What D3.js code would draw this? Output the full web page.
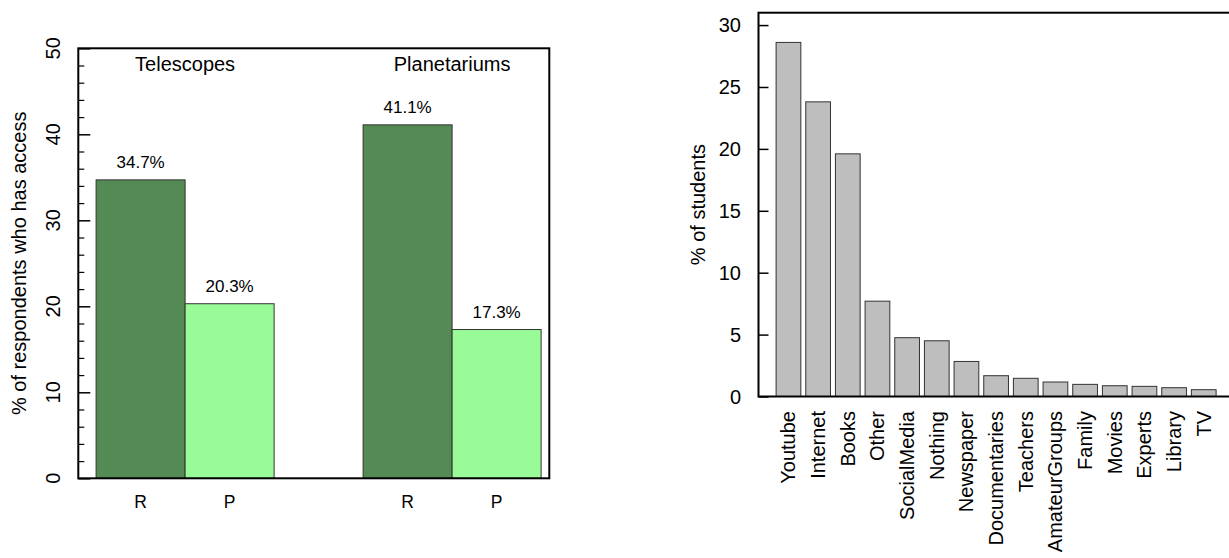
<!DOCTYPE html>
<html>
<head>
<meta charset="utf-8">
<script src="https://cdn.jsdelivr.net/npm/d3@7"></script>
<style>
  html, body { margin: 0; padding: 0; background: #fff; }
  svg { display: block; }
  text { font-family: "Liberation Sans", Arial, Helvetica, sans-serif; fill: #000; }
</style>
</head>
<body>
<svg id="chart" width="1229" height="558"></svg>
<script>
// ---- Data: left panel ----
const groupNames = ["Telescopes", "Planetariums"];
const barNames = ["R", "P"];
const telescopeValues = [34.7, 20.3];
const planetariumValues = [41.1, 17.3];
const barColors = ["#548B54", "#98FB98"];
const leftTicks = [0, 10, 20, 30, 40, 50];
const leftMinorTicks = [2, 4, 6, 8, 12, 14, 16, 18, 22, 24, 26, 28, 32, 34, 36, 38, 42, 44, 46, 48];
const leftYTitle = "% of respondents who has access";

// ---- Data: right panel ----
const sources = ["Youtube", "Internet", "Books", "Other", "SocialMedia", "Nothing", "Newspaper",
  "Documentaries", "Teachers", "AmateurGroups", "Family", "Movies", "Experts", "Library", "TV"];
const sourceValues = [28.6, 23.8, 19.6, 7.7, 4.75, 4.5, 2.83, 1.68, 1.47, 1.17, 0.98, 0.87, 0.82, 0.71, 0.55];
const rightTicks = [0, 5, 10, 15, 20, 25, 30];
const rightYTitle = "% of students";

const svg = d3.select("#chart");

// ================= LEFT PANEL =================
(function () {
  const L = 78.3, R = 549.3, T = 48.3, B = 478.3;
  const x = d3.scaleLinear().domain([0, 5.292]).range([L, R]);
  const y = d3.scaleLinear().domain([0, 50]).range([B, T]);
  const g = svg.append("g");
  const groupValues = [telescopeValues, planetariumValues];

  groupValues.forEach((vals, gi) => {
    const gStart = 0.2 + gi * 3;
    vals.forEach((v, bi) => {
      const x0 = gStart + bi;
      g.append("rect")
        .attr("x", x(x0)).attr("y", y(v))
        .attr("width", x(x0 + 1) - x(x0)).attr("height", y(0) - y(v))
        .attr("fill", barColors[bi]).attr("stroke", "#333").attr("stroke-width", 1);
      g.append("text")
        .attr("x", x(x0 + 0.5)).attr("y", y(v) - 12)
        .attr("text-anchor", "middle").attr("font-size", 17)
        .text(v.toFixed(1) + "%");
      g.append("text")
        .attr("x", x(x0 + 0.5)).attr("y", 507.7)
        .attr("text-anchor", "middle").attr("font-size", 17.5)
        .text(barNames[bi]);
    });
    g.append("text")
      .attr("x", x(gStart + 1)).attr("y", 70.8)
      .attr("text-anchor", "middle").attr("font-size", 20)
      .text(groupNames[gi]);
  });

  // minor ticks (inward)
  const minorAxis = d3.axisLeft(y).tickValues(leftMinorTicks).tickSize(-6).tickFormat("");
  const ma = g.append("g").attr("transform", `translate(${L},0)`).call(minorAxis);
  ma.select(".domain").remove();
  ma.selectAll("line").attr("stroke", "#000").attr("stroke-width", 1.2);
  // major ticks (inward)
  const majorAxis = d3.axisLeft(y).tickValues(leftTicks).tickSize(-12).tickFormat("");
  const mj = g.append("g").attr("transform", `translate(${L},0)`).call(majorAxis);
  mj.select(".domain").remove();
  mj.selectAll("line").attr("stroke", "#000").attr("stroke-width", 1.5);
  // rotated tick labels
  leftTicks.forEach(t => {
    g.append("text")
      .attr("transform", `translate(53.3,${y(t)}) rotate(-90)`)
      .attr("text-anchor", "middle").attr("dy", "0.35em").attr("font-size", 20)
      .text(t);
  });

  // box
  g.append("rect").attr("x", L).attr("y", T).attr("width", R - L).attr("height", B - T)
    .attr("fill", "none").attr("stroke", "#000").attr("stroke-width", 2);

  g.append("text")
    .attr("transform", `translate(19,${(T + B) / 2}) rotate(-90)`)
    .attr("text-anchor", "middle").attr("dy", "0.35em").attr("font-size", 20)
    .text(leftYTitle);
})();

// ================= RIGHT PANEL =================
(function () {
  const L = 758.5, T = 12.7, B = 396.5;
  const unit = 24.72;
  const x = d3.scaleLinear().domain([-0.512, 18.712]).range([L, L + 19.224 * unit]);
  const y = d3.scaleLinear().domain([0, 31]).range([B, T]);
  const g = svg.append("g");

  sources.forEach((s, i) => {
    const x0 = 0.2 + i * 1.2;
    const v = sourceValues[i];
    g.append("rect")
      .attr("x", x(x0)).attr("y", y(v))
      .attr("width", x(x0 + 1) - x(x0)).attr("height", y(0) - y(v))
      .attr("fill", "#BEBEBE").attr("stroke", "#333").attr("stroke-width", 1);
    g.append("text")
      .attr("transform", `translate(${x(x0 + 0.5)},411) rotate(-90)`)
      .attr("text-anchor", "end").attr("dy", "0.35em").attr("font-size", 20)
      .text(s);
  });

  const axis = d3.axisLeft(y).tickValues(rightTicks).tickSize(-10).tickFormat("");
  const ax = g.append("g").attr("transform", `translate(${L},0)`).call(axis);
  ax.select(".domain").remove();
  ax.selectAll("line").attr("stroke", "#000").attr("stroke-width", 1.5);
  rightTicks.forEach(t => {
    g.append("text")
      .attr("x", 741).attr("y", y(t))
      .attr("text-anchor", "end").attr("dy", "0.35em").attr("font-size", 20)
      .text(t);
  });

  // box (right side falls beyond the page)
  g.append("rect").attr("x", L).attr("y", T).attr("width", x(18.712) - L).attr("height", B - T)
    .attr("fill", "none").attr("stroke", "#000").attr("stroke-width", 2);

  g.append("text")
    .attr("transform", `translate(698,${(T + B) / 2}) rotate(-90)`)
    .attr("text-anchor", "middle").attr("dy", "0.35em").attr("font-size", 20)
    .text(rightYTitle);
})();
</script>
</body>
</html>
